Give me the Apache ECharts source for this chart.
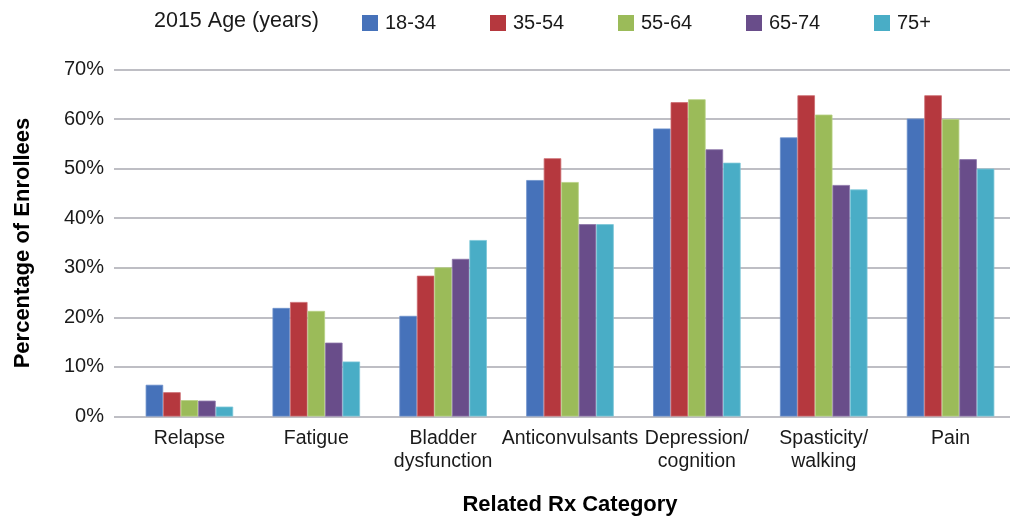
<!DOCTYPE html>
<html>
<head>
<meta charset="utf-8">
<script src="https://cdn.jsdelivr.net/npm/echarts@6/dist/echarts.min.js"></script>
<style>
html,body{margin:0;padding:0;background:#fff;}
#chart{width:1010px;height:516px;}
</style>
</head>
<body>
<div id="chart"></div>
<script>
const categories = ['Relapse', 'Fatigue', 'Bladder\ndysfunction', 'Anticonvulsants', 'Depression/\ncognition', 'Spasticity/\nwalking', 'Pain'];
const seriesNames = ['18-34', '35-54', '55-64', '65-74', '75+'];
const age18_34 = [6.4, 21.9, 20.3, 47.7, 58.1, 56.3, 60.1];
const age35_54 = [4.9, 23.1, 28.4, 52.1, 63.4, 64.8, 64.8];
const age55_64 = [3.3, 21.3, 30.1, 47.3, 64.0, 60.9, 60.0];
const age65_74 = [3.2, 14.9, 31.8, 38.8, 53.9, 46.7, 51.9];
const age75plus = [2.0, 11.1, 35.6, 38.8, 51.2, 45.8, 50.0];
const yTicks = [0, 10, 20, 30, 40, 50, 60, 70];

const seriesData = [age18_34, age35_54, age55_64, age65_74, age75plus];
const colors = ['#4672BA', '#B5383E', '#9BBB59', '#694D8A', '#49ADC6'];
const borders = ['#6C90CC', '#CC6A6E', '#B6D083', '#8C74A8', '#7CC6D8'];
const FONT = '"Liberation Sans", Arial, sans-serif';

const chart = echarts.init(document.getElementById('chart'));
chart.setOption({
  animation: false,
  textStyle: { fontFamily: FONT },
  title: {
    text: '2015 Age (years)',
    left: 154, top: 10,
    padding: 0,
    textStyle: { fontFamily: FONT, fontSize: 21.5, fontWeight: 'normal', color: '#1a1a1a' }
  },
  legend: {
    left: 362, top: 13,
    padding: 0,
    itemWidth: 16, itemHeight: 16, itemGap: 25,
    icon: 'rect',
    itemStyle: { borderWidth: 0 },
    data: seriesNames,
    textStyle: { fontFamily: FONT, fontSize: 20, color: '#1a1a1a', width: 80, lineHeight: 16, padding: [0, 0, 0, 2] }
  },
  grid: [
    { left: 114, right: 0, top: 69.5, bottom: 99.5, containLabel: false, outerBoundsMode: 'none' },
    { left: 126, right: -4, top: 69.5, bottom: 99.5, containLabel: false, outerBoundsMode: 'none' }
  ],
  xAxis: [
    { gridIndex: 0, type: 'value', show: false, min: 0, max: 1 },
    {
      gridIndex: 1, type: 'category', data: categories,
      axisLine: { show: false }, axisTick: { show: false },
      axisLabel: { fontFamily: FONT, fontSize: 19.5, color: '#1a1a1a', margin: 11, lineHeight: 23, interval: 0 },
      name: 'Related Rx Category', nameLocation: 'middle', nameGap: 77,
      nameTextStyle: { fontFamily: FONT, fontSize: 22, fontWeight: 'bold', color: '#000' }
    }
  ],
  yAxis: [
    {
      gridIndex: 0, type: 'value', min: yTicks[0], max: yTicks[yTicks.length - 1], interval: 10,
      axisLine: { show: false }, axisTick: { show: false },
      axisLabel: { fontFamily: FONT, fontSize: 20, color: '#1a1a1a', margin: 10, formatter: '{value}%' },
      splitLine: { show: true, lineStyle: { color: '#BEBEC4', width: 2 } },
      name: 'Percentage of Enrollees', nameLocation: 'middle', nameGap: 80,
      nameTextStyle: { fontFamily: FONT, fontSize: 22, fontWeight: 'bold', color: '#000' }
    },
    { gridIndex: 1, type: 'value', min: 0, max: 70, interval: 10, show: false, splitLine: { show: false } }
  ],
  series: seriesNames.map((n, i) => ({
    name: n, type: 'bar', xAxisIndex: 1, yAxisIndex: 1,
    data: seriesData[i],
    barGap: '0%', barCategoryGap: '31%',
    itemStyle: { color: colors[i], borderColor: borders[i], borderWidth: 0.8 }
  }))
});
</script>
</body>
</html>
